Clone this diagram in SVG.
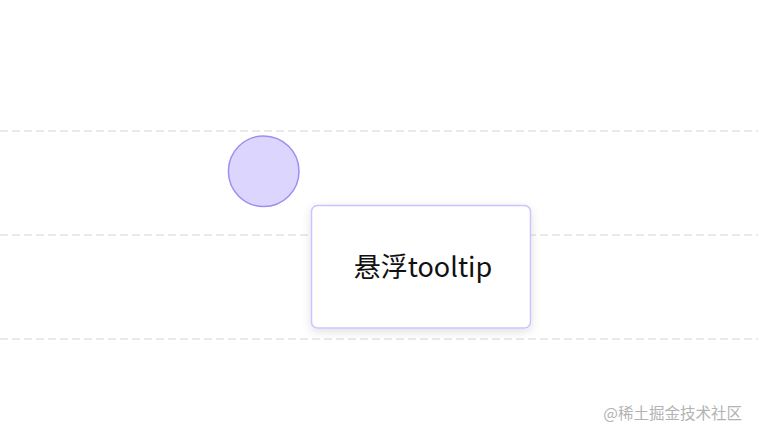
<svg xmlns="http://www.w3.org/2000/svg" width="758" height="438" viewBox="0 0 758 438">
<style>
.grid{stroke:#e3e3e3;stroke-width:1.5;stroke-dasharray:8 4;fill:none}
.t{font-family:"Noto Sans CJK SC","Noto Sans",sans-serif}
</style>
<defs>
<filter id="sh" x="-20%" y="-30%" width="140%" height="160%">
<feDropShadow dx="0" dy="3" stdDeviation="5" flood-color="#000" flood-opacity="0.12"/>
</filter>
</defs>
<rect width="758" height="438" fill="#fff"/>
<g id="grid">
<line class="grid" x1="0" y1="131" x2="758" y2="131"/>
<line class="grid" x1="0" y1="235" x2="758" y2="235"/>
<line class="grid" x1="0" y1="339" x2="758" y2="339"/>
</g>
<g id="point">
<circle cx="263.7" cy="171.3" r="35.3" fill="#dcd6ff" stroke="#9c8ff0" stroke-width="1.5"/>
</g>
<g id="tooltip">
<rect x="311.5" y="205.5" width="219" height="122.5" rx="6" fill="#fff" stroke="#cbc3ff" stroke-width="1.5" filter="url(#sh)"/>
<text class="t" x="423" y="277" font-size="27" text-anchor="middle" fill="#111">悬浮tooltip</text>
</g>
<g id="connectors"/>
<text class="t" x="742" y="419" font-size="15.5" text-anchor="end" fill="#b3b3b3">@稀土掘金技术社区</text>
</svg>
